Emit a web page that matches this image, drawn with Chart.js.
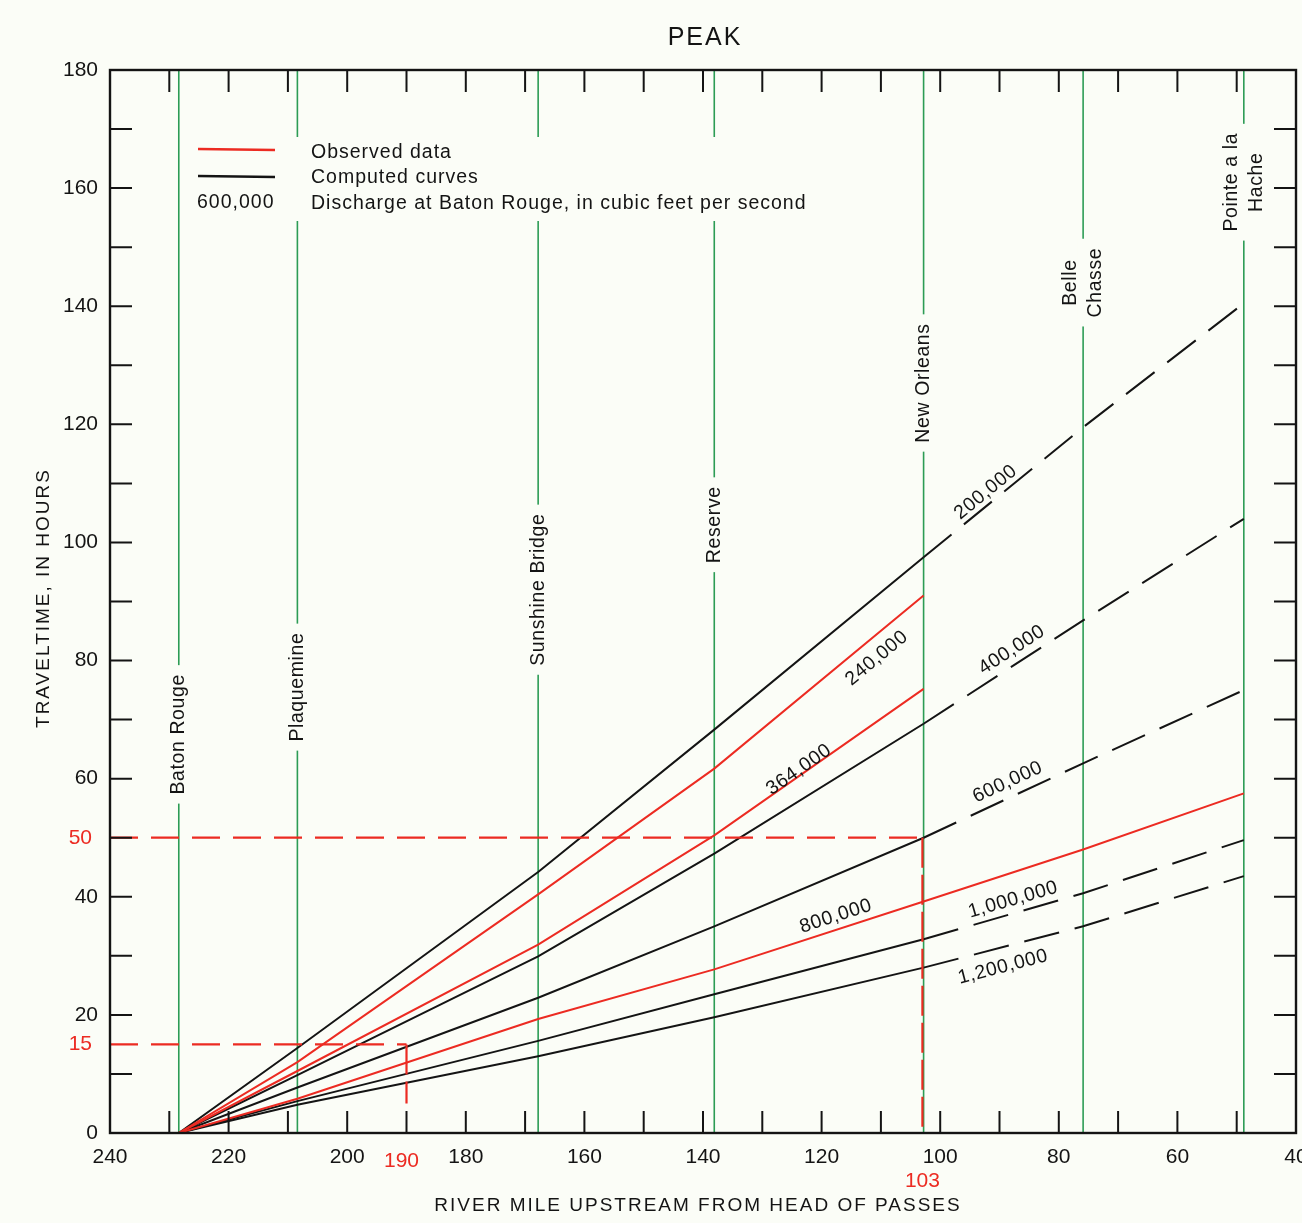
<!DOCTYPE html>
<html>
<head>
<meta charset="utf-8">
<title>Peak traveltime</title>
<script src="https://cdn.jsdelivr.net/npm/chart.js@4.4.1/dist/chart.umd.min.js"></script>
<style>
  html, body { margin: 0; padding: 0; background: #fbfdf7; }
  #wrap { width: 1302px; height: 1223px; }
</style>
</head>
<body>
<div id="wrap"><canvas id="chart" width="1302" height="1223"></canvas></div>
<script>
// --- Data ---
// stations, river mile upstream from Head of Passes
const STATION_NAMES = [['Baton Rouge'], ['Plaquemine'], ['Sunshine Bridge'], ['Reserve'], ['New Orleans'], ['Belle', 'Chasse'], ['Pointe a la', 'Hache']];
const STATION_MILES = [228.4, 208.4, 167.8, 138.1, 102.8, 75.9, 48.8];

// computed curves, traveltime in hours at each station
const COMPUTED_LABELS = ['200,000', '400,000', '600,000', '1,000,000', '1,200,000'];
const Q_200K = [0, 14.4, 44.2, 68.3, 97.5, 119.5, 140.5];
const Q_400K = [0, 9.8, 29.9, 47.3, 69.3, 86.8, 104.0];
const Q_600K = [0, 7.7, 22.9, 35.0, 50.0, 62.6, 75.0];
const Q_1000K = [0, 5.4, 15.6, 23.5, 32.8, 40.6, 49.6];
const Q_1200K = [0, 4.8, 13.0, 19.6, 28.0, 35.0, 43.5];

// observed data
const OBSERVED_LABELS = ['240,000', '364,000', '800,000'];
const OBS_240K = [0, 12.0, 40.4, 61.7, 91.0];
const OBS_364K = [0, 10.5, 31.9, 50.4, 75.2];
const OBS_800K = [0, 5.8, 19.3, 27.7, 39.2, 48.0, 57.5];

// observed peak times marked with dashed guides
const GUIDE_MILES = [190, 103];
const GUIDE_HOURS = [15, 50];
const GUIDE_FOOT = [5, 0];

// axis ticks
const X_MIN = 40, X_MAX = 240, X_STEP = 20;
const Y_MIN = 0, Y_MAX = 180, Y_STEP = 20;
const MINOR_STEP = 10;

// --- Styles ---
const FONT = "'Liberation Sans', Arial, sans-serif";
const BG = '#fbfdf7';
const RED = '#ec2b22';
const BLACK = '#141414';
const GREEN = '#2c9c55';
const NO_MILE = STATION_MILES[4];

function points(hours) {
    return hours.map((h, i) => ({ x: STATION_MILES[i], y: h }));
}

const datasets = [];
// station verticals
STATION_MILES.forEach(m => datasets.push({
    data: [{ x: m, y: Y_MIN }, { x: m, y: Y_MAX }],
    borderColor: GREEN, borderWidth: 1.6, order: 10
}));
// computed curves: solid to New Orleans, dashed below
[Q_200K, Q_400K, Q_600K, Q_1000K, Q_1200K].forEach(series => datasets.push({
    data: points(series),
    borderColor: BLACK, borderWidth: 2, order: 5,
    segment: { borderDash: ctx => ctx.p0.parsed.x < NO_MILE + 0.5 ? [36, 16] : undefined }
}));
// observed
[OBS_240K, OBS_364K, OBS_800K].forEach(series => datasets.push({
    data: points(series),
    borderColor: RED, borderWidth: 2, order: 4
}));
// dashed guides (vertical parts have shorter gaps)
GUIDE_MILES.forEach((m, i) => datasets.push({
    data: [{ x: X_MAX, y: GUIDE_HOURS[i] }, { x: m, y: GUIDE_HOURS[i] }, { x: m, y: GUIDE_FOOT[i] }],
    borderColor: RED, borderWidth: 2.2, borderDash: [28, 13], order: 3,
    segment: { borderDash: ctx => ctx.p0.parsed.x === ctx.p1.parsed.x ? [30, 7] : undefined }
}));

// text along the curves: [label, mile, hours, series]
const LINE_LABELS = [
    [COMPUTED_LABELS[0], 92.3, 108.5, Q_200K],
    [COMPUTED_LABELS[1], 87.9, 81.8, Q_400K],
    [COMPUTED_LABELS[2], 88.6, 59.4, Q_600K],
    [COMPUTED_LABELS[3], 87.7, 39.5, Q_1000K],
    [COMPUTED_LABELS[4], 89.4, 28.1, Q_1200K],
    [OBSERVED_LABELS[0], 110.7, 80.4, OBS_240K],
    [OBSERVED_LABELS[1], 123.8, 61.5, OBS_364K],
    [OBSERVED_LABELS[2], 117.6, 36.7, OBS_800K]
];
// centre (hours) of each rotated station name
const STATION_TEXT_AT = [67.5, 75.5, 92, 103, 127, 144, 161];

function slopeAngle(chart, series, mile) {
    const { x, y } = chart.scales;
    let i = 0;
    while (i < series.length - 2 && STATION_MILES[i + 1] > mile) i++;
    const dx = x.getPixelForValue(STATION_MILES[i + 1]) - x.getPixelForValue(STATION_MILES[i]);
    const dy = y.getPixelForValue(series[i + 1]) - y.getPixelForValue(series[i]);
    return Math.atan2(dy, dx);
}

const figurePlugin = {
    id: 'figure',
    afterDatasetsDraw(chart) {
        const { ctx, scales: { x, y } } = chart;
        ctx.save();
        ctx.textAlign = 'center';
        ctx.textBaseline = 'middle';

        // station names, cutting a gap in their verticals
        ctx.font = `19.5px ${FONT}`;
        ctx.letterSpacing = '0.6px';
        STATION_NAMES.forEach((lines, i) => {
            const cx = x.getPixelForValue(STATION_MILES[i]);
            const cy = y.getPixelForValue(STATION_TEXT_AT[i]);
            const w = Math.max(...lines.map(t => ctx.measureText(t).width));
            ctx.fillStyle = BG;
            ctx.fillRect(cx - 6, cy - w / 2 - 9, 12, w + 18);
            ctx.fillStyle = BLACK;
            ctx.save();
            ctx.translate(cx, cy);
            ctx.rotate(-Math.PI / 2);
            lines.forEach((t, k) => ctx.fillText(t, 0, (k - (lines.length - 1) / 2) * 25));
            ctx.restore();
        });

        // discharge labels along the curves
        ctx.font = `19.5px ${FONT}`;
        ctx.letterSpacing = '0.6px';
        LINE_LABELS.forEach(([t, m, h, series]) => {
            ctx.save();
            ctx.translate(x.getPixelForValue(m), y.getPixelForValue(h));
            ctx.rotate(slopeAngle(chart, series, m));
            ctx.fillStyle = BLACK;
            ctx.fillText(t, 0, 0);
            ctx.restore();
        });

        // legend
        ctx.fillStyle = BG;
        ctx.fillRect(192, 137, 620, 84);
        ctx.lineWidth = 2.5;
        ctx.strokeStyle = RED;
        ctx.beginPath(); ctx.moveTo(198, 149); ctx.lineTo(275, 150); ctx.stroke();
        ctx.strokeStyle = BLACK;
        ctx.beginPath(); ctx.moveTo(198, 176); ctx.lineTo(275, 177); ctx.stroke();
        ctx.font = `19.5px ${FONT}`;
        ctx.letterSpacing = '1px';
        ctx.textAlign = 'left';
        ctx.fillStyle = BLACK;
        ctx.fillText(COMPUTED_LABELS[2], 197, 203);
        ctx.fillText('Observed data', 311, 153);
        ctx.fillText('Computed curves', 311, 178);
        ctx.fillText('Discharge at Baton Rouge, in cubic feet per second', 311, 204);
        ctx.restore();
    },
    afterDraw(chart) {
        const { ctx, chartArea: a, scales: { x, y } } = chart;
        ctx.save();
        // frame and inward ticks
        ctx.strokeStyle = BLACK;
        ctx.lineWidth = 2.4;
        ctx.strokeRect(a.left, a.top, a.right - a.left, a.bottom - a.top);
        ctx.lineWidth = 2;
        ctx.beginPath();
        for (let v = Y_MIN; v <= Y_MAX; v += MINOR_STEP) {
            const py = y.getPixelForValue(v);
            ctx.moveTo(a.left, py); ctx.lineTo(a.left + 22, py);
            ctx.moveTo(a.right, py); ctx.lineTo(a.right - 22, py);
        }
        for (let m = X_MIN; m <= X_MAX; m += MINOR_STEP) {
            const px = x.getPixelForValue(m);
            ctx.moveTo(px, a.bottom); ctx.lineTo(px, a.bottom - 22);
            ctx.moveTo(px, a.top); ctx.lineTo(px, a.top + 22);
        }
        ctx.stroke();

        // red values of the guides
        ctx.fillStyle = RED;
        ctx.font = `21px ${FONT}`;
        ctx.textBaseline = 'middle';
        ctx.textAlign = 'right';
        GUIDE_HOURS.forEach(h => ctx.fillText(String(h), a.left - 18, y.getPixelForValue(h)));
        ctx.textAlign = 'center';
        ctx.fillText(String(GUIDE_MILES[0]), x.getPixelForValue(GUIDE_MILES[0]) - 5, a.bottom + 28);
        ctx.fillText(String(GUIDE_MILES[1]), x.getPixelForValue(GUIDE_MILES[1]), a.bottom + 48);

        // titles
        ctx.fillStyle = BLACK;
        ctx.font = `25px ${FONT}`;
        ctx.letterSpacing = '2px';
        ctx.fillText('PEAK', (a.left + a.right) / 2 + 2, 38);
        ctx.font = `19px ${FONT}`;
        ctx.letterSpacing = '2px';
        ctx.fillText('RIVER MILE UPSTREAM FROM HEAD OF PASSES', (a.left + a.right) / 2 - 5, 1206);
        ctx.translate(44, 598);
        ctx.rotate(-Math.PI / 2);
        ctx.fillText('TRAVELTIME, IN HOURS', 0, 0);
        ctx.restore();
    }
};

new Chart(document.getElementById('chart'), {
    type: 'line',
    data: { datasets },
    options: {
        responsive: false,
        animation: false,
        events: [],
        layout: { padding: { top: 70, right: 6, left: 0, bottom: 0 } },
        elements: { point: { radius: 0 }, line: { tension: 0 } },
        plugins: { legend: { display: false }, tooltip: { enabled: false } },
        scales: {
            x: {
                type: 'linear', reverse: true, min: X_MIN, max: X_MAX,
                grid: { display: false }, border: { display: false },
                ticks: { stepSize: X_STEP, color: BLACK, padding: 4, maxRotation: 0, autoSkip: false,
                         font: { family: FONT, size: 21 } },
                afterFit: s => { s.height = 90; s.paddingLeft = 0; s.paddingRight = 0; }
            },
            y: {
                min: Y_MIN, max: Y_MAX,
                grid: { display: false }, border: { display: false },
                ticks: { stepSize: Y_STEP, color: BLACK, padding: 4,
                         font: { family: FONT, size: 21 } },
                afterFit: s => { s.width = 110; s.paddingTop = 0; s.paddingBottom = 0; }
            }
        }
    },
    plugins: [figurePlugin]
});
</script>
</body>
</html>
